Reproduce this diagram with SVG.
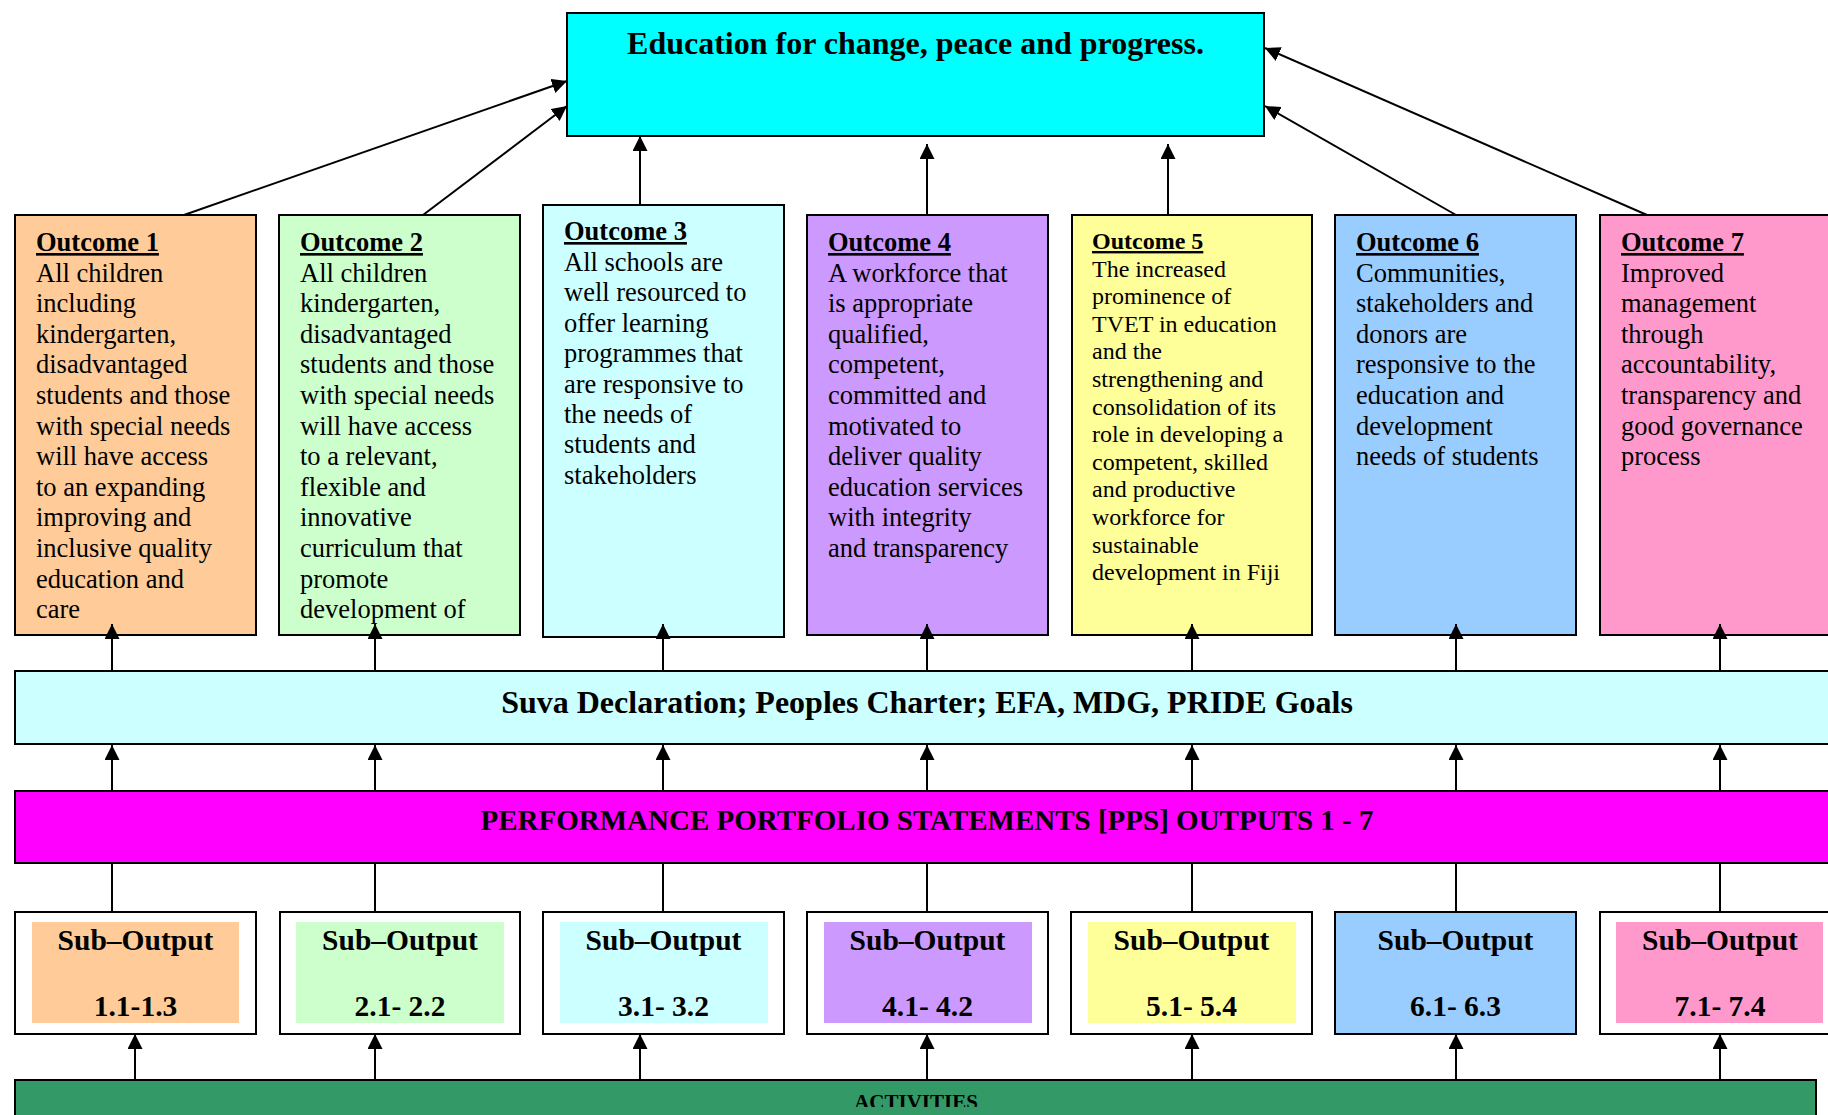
<svg xmlns="http://www.w3.org/2000/svg" width="1828" height="1115" viewBox="0 0 1828 1115">
<defs>
<marker id="ah" markerUnits="userSpaceOnUse" markerWidth="16" markerHeight="16" refX="15" refY="7.5" orient="auto" viewBox="0 0 16 16">
<path d="M0,0 L15,7.5 L0,15 z" fill="#000"/>
</marker>
<clipPath id="actclip"><rect x="15" y="1080" width="1801" height="27"/></clipPath>
</defs>
<style>
.box{stroke:#000;stroke-width:2}
.ttl{font-family:"Liberation Serif","Times New Roman",serif;font-weight:bold;fill:#000}
.body{font-family:"Liberation Serif","Times New Roman",serif;font-size:26.5px;fill:#000}
.sm{font-size:24px}
.hd{font-weight:bold;text-decoration:underline}
.sub{font-family:"Liberation Serif","Times New Roman",serif;font-weight:bold;font-size:29.5px;text-anchor:middle;fill:#000}
.ln{stroke:#000;stroke-width:2;fill:none}
.arr{stroke:#000;stroke-width:2;fill:none;marker-end:url(#ah)}
</style>
<rect width="1828" height="1115" fill="#fff"/>

<g id="goal">
<rect class="box" x="567" y="13" width="697" height="123" fill="#00FFFF"/>
<text class="ttl" x="915.5" y="54" font-size="32" text-anchor="middle">Education for change, peace and progress.</text>
</g>

<g id="outcome1">
<rect class="box" x="15" y="215" width="241" height="420" fill="#FFCC99"/>
<text class="body" x="36" y="251"><tspan class="hd">Outcome 1</tspan><tspan x="36" y="281.6">All children</tspan><tspan x="36" y="312.2">including</tspan><tspan x="36" y="342.8">kindergarten,</tspan><tspan x="36" y="373.4">disadvantaged</tspan><tspan x="36" y="404">students and those</tspan><tspan x="36" y="434.6">with special needs</tspan><tspan x="36" y="465.2">will have access</tspan><tspan x="36" y="495.8">to an expanding</tspan><tspan x="36" y="526.4">improving and</tspan><tspan x="36" y="557">inclusive quality</tspan><tspan x="36" y="587.6">education and</tspan><tspan x="36" y="618.2">care</tspan></text>
</g>

<g id="outcome2">
<rect class="box" x="279" y="215" width="241" height="420" fill="#CCFFCC"/>
<text class="body" x="300" y="251"><tspan class="hd">Outcome 2</tspan><tspan x="300" y="281.6">All children</tspan><tspan x="300" y="312.2">kindergarten,</tspan><tspan x="300" y="342.8">disadvantaged</tspan><tspan x="300" y="373.4">students and those</tspan><tspan x="300" y="404">with special needs</tspan><tspan x="300" y="434.6">will have access</tspan><tspan x="300" y="465.2">to a relevant,</tspan><tspan x="300" y="495.8">flexible and</tspan><tspan x="300" y="526.4">innovative</tspan><tspan x="300" y="557">curriculum that</tspan><tspan x="300" y="587.6">promote</tspan><tspan x="300" y="618.2">development of</tspan></text>
</g>

<g id="outcome3">
<rect class="box" x="543" y="205" width="241" height="432" fill="#CCFFFF"/>
<text class="body" x="564" y="240"><tspan class="hd">Outcome 3</tspan><tspan x="564" y="271">All schools are</tspan><tspan x="564" y="301.4">well resourced to</tspan><tspan x="564" y="331.8">offer learning</tspan><tspan x="564" y="362.2">programmes that</tspan><tspan x="564" y="392.6">are responsive to</tspan><tspan x="564" y="423">the needs of</tspan><tspan x="564" y="453.4">students and</tspan><tspan x="564" y="483.8">stakeholders</tspan></text>
</g>

<g id="outcome4">
<rect class="box" x="807" y="215" width="241" height="420" fill="#CC99FF"/>
<text class="body" x="828" y="251"><tspan class="hd">Outcome 4</tspan><tspan x="828" y="281.6">A workforce that</tspan><tspan x="828" y="312.2">is appropriate</tspan><tspan x="828" y="342.8">qualified,</tspan><tspan x="828" y="373.4">competent,</tspan><tspan x="828" y="404">committed and</tspan><tspan x="828" y="434.6">motivated to</tspan><tspan x="828" y="465.2">deliver quality</tspan><tspan x="828" y="495.8">education services</tspan><tspan x="828" y="526.4">with integrity</tspan><tspan x="828" y="557">and transparency</tspan></text>
</g>

<g id="outcome5">
<rect class="box" x="1072" y="215" width="240" height="420" fill="#FFFF99"/>
<text class="body sm" x="1092" y="249"><tspan class="hd">Outcome 5</tspan><tspan x="1092" y="276.6">The increased</tspan><tspan x="1092" y="304.2">prominence of</tspan><tspan x="1092" y="331.8">TVET in education</tspan><tspan x="1092" y="359.4">and the</tspan><tspan x="1092" y="387">strengthening and</tspan><tspan x="1092" y="414.6">consolidation of its</tspan><tspan x="1092" y="442.2">role in developing a</tspan><tspan x="1092" y="469.8">competent, skilled</tspan><tspan x="1092" y="497.4">and productive</tspan><tspan x="1092" y="525">workforce for</tspan><tspan x="1092" y="552.6">sustainable</tspan><tspan x="1092" y="580.2">development in Fiji</tspan></text>
</g>

<g id="outcome6">
<rect class="box" x="1335" y="215" width="241" height="420" fill="#99CCFF"/>
<text class="body" x="1356" y="251"><tspan class="hd">Outcome 6</tspan><tspan x="1356" y="281.6">Communities,</tspan><tspan x="1356" y="312.2">stakeholders and</tspan><tspan x="1356" y="342.8">donors are</tspan><tspan x="1356" y="373.4">responsive to the</tspan><tspan x="1356" y="404">education and</tspan><tspan x="1356" y="434.6">development</tspan><tspan x="1356" y="465.2">needs of students</tspan></text>
</g>

<g id="outcome7">
<rect class="box" x="1600" y="215" width="241" height="420" fill="#FF99CC"/>
<text class="body" x="1621" y="251"><tspan class="hd">Outcome 7</tspan><tspan x="1621" y="281.6">Improved</tspan><tspan x="1621" y="312.2">management</tspan><tspan x="1621" y="342.8">through</tspan><tspan x="1621" y="373.4">accountability,</tspan><tspan x="1621" y="404">transparency and</tspan><tspan x="1621" y="434.6">good governance</tspan><tspan x="1621" y="465.2">process</tspan></text>
</g>

<g id="suva">
<rect class="box" x="15" y="671" width="1830" height="73" fill="#CCFFFF"/>
<text class="ttl" x="927" y="713" font-size="32" text-anchor="middle">Suva Declaration; Peoples Charter; EFA, MDG, PRIDE Goals</text>
</g>

<g id="pps">
<rect class="box" x="15" y="791" width="1830" height="72" fill="#FF00FF"/>
<text class="ttl" x="927" y="830" font-size="29" text-anchor="middle">PERFORMANCE PORTFOLIO STATEMENTS [PPS] OUTPUTS 1 - 7</text>
</g>

<g id="sub1">
<rect class="box" x="15" y="912" width="241" height="122" fill="#fff"/>
<rect x="32" y="922" width="207" height="101" fill="#FFCC99"/>
<text class="sub" x="135.5" y="950">Sub–Output</text>
<text class="sub" x="135.5" y="1016">1.1-1.3</text>
</g>
<g id="sub2">
<rect class="box" x="280" y="912" width="240" height="122" fill="#fff"/>
<rect x="296" y="922" width="208" height="101" fill="#CCFFCC"/>
<text class="sub" x="400" y="950">Sub–Output</text>
<text class="sub" x="400" y="1016">2.1- 2.2</text>
</g>
<g id="sub3">
<rect class="box" x="543" y="912" width="241" height="122" fill="#fff"/>
<rect x="560" y="922" width="208" height="101" fill="#CCFFFF"/>
<text class="sub" x="663.5" y="950">Sub–Output</text>
<text class="sub" x="663.5" y="1016">3.1- 3.2</text>
</g>
<g id="sub4">
<rect class="box" x="807" y="912" width="241" height="122" fill="#fff"/>
<rect x="824" y="922" width="208" height="101" fill="#CC99FF"/>
<text class="sub" x="927.5" y="950">Sub–Output</text>
<text class="sub" x="927.5" y="1016">4.1- 4.2</text>
</g>
<g id="sub5">
<rect class="box" x="1071" y="912" width="241" height="122" fill="#fff"/>
<rect x="1088" y="922" width="208" height="101" fill="#FFFF99"/>
<text class="sub" x="1191.5" y="950">Sub–Output</text>
<text class="sub" x="1191.5" y="1016">5.1- 5.4</text>
</g>
<g id="sub6">
<rect class="box" x="1335" y="912" width="241" height="122" fill="#99CCFF"/>
<text class="sub" x="1455.5" y="950">Sub–Output</text>
<text class="sub" x="1455.5" y="1016">6.1- 6.3</text>
</g>
<g id="sub7">
<rect class="box" x="1600" y="912" width="241" height="122" fill="#fff"/>
<rect x="1616" y="922" width="207" height="101" fill="#FF99CC"/>
<text class="sub" x="1720" y="950">Sub–Output</text>
<text class="sub" x="1720" y="1016">7.1- 7.4</text>
</g>

<g id="activities">
<rect class="box" x="15" y="1080" width="1801" height="60" fill="#339966"/>
<text class="ttl" x="916" y="1109" font-size="21" text-anchor="middle" clip-path="url(#actclip)">ACTIVITIES</text>
</g>

<g id="connectors">
<line class="arr" x1="184" y1="215" x2="567" y2="81"/>
<line class="arr" x1="423" y1="215" x2="567" y2="106"/>
<line class="arr" x1="640" y1="205" x2="640" y2="136"/>
<line class="arr" x1="927" y1="215" x2="927" y2="144"/>
<line class="arr" x1="1168" y1="215" x2="1168" y2="144"/>
<line class="arr" x1="1456" y1="215" x2="1265" y2="106"/>
<line class="arr" x1="1647" y1="215" x2="1265" y2="48"/>

<line class="arr" x1="112" y1="671" x2="112" y2="624"/>
<line class="arr" x1="375" y1="671" x2="375" y2="624"/>
<line class="arr" x1="663" y1="671" x2="663" y2="624"/>
<line class="arr" x1="927" y1="671" x2="927" y2="624"/>
<line class="arr" x1="1192" y1="671" x2="1192" y2="624"/>
<line class="arr" x1="1456" y1="671" x2="1456" y2="624"/>
<line class="arr" x1="1720" y1="671" x2="1720" y2="624"/>

<line class="arr" x1="112" y1="791" x2="112" y2="745"/>
<line class="arr" x1="375" y1="791" x2="375" y2="745"/>
<line class="arr" x1="663" y1="791" x2="663" y2="745"/>
<line class="arr" x1="927" y1="791" x2="927" y2="745"/>
<line class="arr" x1="1192" y1="791" x2="1192" y2="745"/>
<line class="arr" x1="1456" y1="791" x2="1456" y2="745"/>
<line class="arr" x1="1720" y1="791" x2="1720" y2="745"/>

<line class="ln" x1="112" y1="863" x2="112" y2="912"/>
<line class="ln" x1="375" y1="863" x2="375" y2="912"/>
<line class="ln" x1="663" y1="863" x2="663" y2="912"/>
<line class="ln" x1="927" y1="863" x2="927" y2="912"/>
<line class="ln" x1="1192" y1="863" x2="1192" y2="912"/>
<line class="ln" x1="1456" y1="863" x2="1456" y2="912"/>
<line class="ln" x1="1720" y1="863" x2="1720" y2="912"/>

<line class="arr" x1="135" y1="1080" x2="135" y2="1034"/>
<line class="arr" x1="375" y1="1080" x2="375" y2="1034"/>
<line class="arr" x1="640" y1="1080" x2="640" y2="1034"/>
<line class="arr" x1="927" y1="1080" x2="927" y2="1034"/>
<line class="arr" x1="1192" y1="1080" x2="1192" y2="1034"/>
<line class="arr" x1="1456" y1="1080" x2="1456" y2="1034"/>
<line class="arr" x1="1720" y1="1080" x2="1720" y2="1034"/>
</g>
</svg>
